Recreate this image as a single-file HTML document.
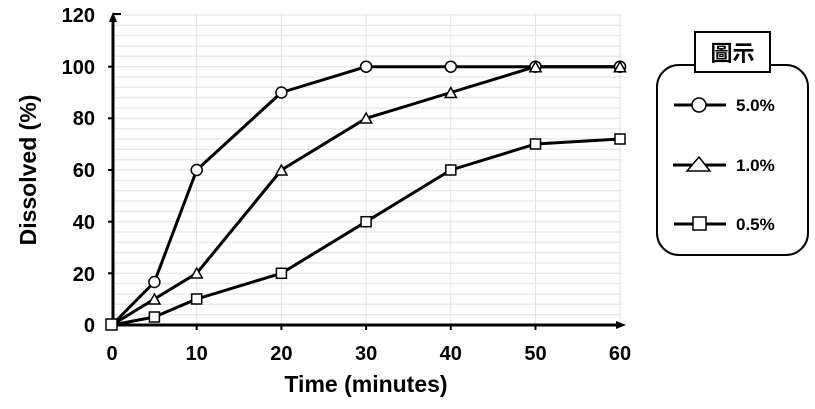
<!DOCTYPE html><html><head><style>body{margin:0;background:#fff}svg{display:block}text{font-family:"Liberation Sans","Noto Sans CJK TC",sans-serif;font-weight:bold}</style></head><body>
<svg width="815" height="409" xmlns="http://www.w3.org/2000/svg">
<path stroke="#e0e0e0" stroke-width="1" fill="none" d="M113 314.7H622M113 304.3H622M113 294H622M113 283.7H622M113 273.3H622M113 263H622M113 252.7H622M113 242.3H622M113 232H622M113 221.7H622M113 211.3H622M113 201H622M113 190.7H622M113 180.3H622M113 170H622M113 159.7H622M113 149.3H622M113 139H622M113 128.7H622M113 118.3H622M113 108H622M113 97.7H622M113 87.3H622M113 77H622M113 66.7H622M113 56.3H622M113 46H622M113 35.7H622M113 25.3H622M113 15H622M196.7 14V325M281.4 14V325M366.1 14V325M450.8 14V325M535.5 14V325M620 14V325"/>
<g stroke="#000" stroke-width="3" fill="none">
<line x1="113" y1="326" x2="113" y2="18"/>
<line x1="112" y1="325" x2="620" y2="325"/>
</g>
<polygon points="113,12 109,22 117,22" fill="#000"/>
<polygon points="626,325 616,321 616,329" fill="#000"/>
<g stroke="#000" stroke-width="2">
<line x1="113" x2="121" y1="14" y2="14"/><line x1="108" x2="113" y1="66.7" y2="66.7"/><line x1="108" x2="113" y1="118.3" y2="118.3"/><line x1="108" x2="113" y1="170" y2="170"/><line x1="108" x2="113" y1="221.7" y2="221.7"/><line x1="108" x2="113" y1="273.3" y2="273.3"/>
<line x1="196.7" x2="196.7" y1="325" y2="330"/><line x1="281.4" x2="281.4" y1="325" y2="330"/><line x1="366.1" x2="366.1" y1="325" y2="330"/><line x1="450.8" x2="450.8" y1="325" y2="330"/><line x1="535.5" x2="535.5" y1="325" y2="330"/>
</g>
<g font-size="20" text-anchor="end">
<text x="95" y="22">120</text><text x="95" y="74">100</text><text x="95" y="125">80</text><text x="95" y="177">60</text><text x="95" y="229">40</text><text x="95" y="281">20</text><text x="95" y="332">0</text>
</g>
<g font-size="20" text-anchor="middle">
<text x="112" y="360">0</text><text x="196.7" y="360">10</text><text x="281.4" y="360">20</text><text x="366.1" y="360">30</text><text x="450.8" y="360">40</text><text x="535.5" y="360">50</text><text x="620" y="360">60</text>
</g>
<text x="366" y="392" font-size="23" text-anchor="middle">Time (minutes)</text>
<text transform="translate(36,170) rotate(-90)" font-size="23" text-anchor="middle">Dissolved (%)</text>
<g stroke="#000" stroke-width="3" fill="none" stroke-linejoin="round">
<polyline points="112,325 154.4,282 196.7,170 281.4,92.5 366.1,66.7 450.8,66.7 535.5,66.7 620,66.7"/>
<polyline points="112,325 154.4,299 196.7,273.3 281.4,170 366.1,118.3 450.8,92.5 535.5,66.7 620,66.7"/>
<polyline points="112,325 154.4,317 196.7,299 281.4,273.3 366.1,221.7 450.8,170 535.5,144 620,139"/>
</g>
<g stroke="#000" stroke-width="1.5" fill="#fff">
<circle cx="154.4" cy="282" r="5.5"/><circle cx="196.7" cy="170" r="5.5"/><circle cx="281.4" cy="92.5" r="5.5"/><circle cx="366.1" cy="66.7" r="5.5"/><circle cx="450.8" cy="66.7" r="5.5"/><circle cx="535.5" cy="66.7" r="5.5"/><circle cx="620" cy="66.7" r="5.5"/>
<polygon points="154.4,294 160,304 148.8,304"/><polygon points="196.7,268 202.3,278 191.1,278"/><polygon points="281.4,165 287,175 275.8,175"/><polygon points="366.1,113 371.7,123 360.5,123"/><polygon points="450.8,87.5 456.4,97.5 445.2,97.5"/><polygon points="535.5,61.7 541.1,71.7 529.9,71.7"/><polygon points="620,61.7 625.6,71.7 614.4,71.7"/>
<rect x="149.4" y="312" width="10" height="10"/><rect x="191.7" y="294" width="10" height="10"/><rect x="276.4" y="268.3" width="10" height="10"/><rect x="361.1" y="216.7" width="10" height="10"/><rect x="445.8" y="165" width="10" height="10"/><rect x="530.5" y="139" width="10" height="10"/><rect x="615" y="134" width="10" height="10"/>
<rect x="106" y="319" width="11" height="11"/>
</g>
<rect x="657" y="65" width="151" height="190" rx="22" fill="#fff" stroke="#000" stroke-width="2"/>
<rect x="695" y="32" width="75" height="40" fill="#fff" stroke="#000" stroke-width="2"/>
<text x="732.5" y="61" font-size="22" font-weight="normal" text-anchor="middle">圖示</text>
<g stroke="#000" stroke-width="3"><line x1="674" x2="726" y1="105" y2="105"/><line x1="673" x2="726" y1="165" y2="165"/><line x1="674" x2="726" y1="224" y2="224"/></g>
<g stroke="#000" stroke-width="1.5" fill="#fff"><circle cx="699" cy="105" r="7"/><polygon points="699,157 710,171 687,171"/><rect x="693" y="217" width="13" height="13"/></g>
<g font-size="17"><text x="736" y="111">5.0%</text><text x="736" y="171">1.0%</text><text x="736" y="230">0.5%</text></g>
</svg></body></html>
